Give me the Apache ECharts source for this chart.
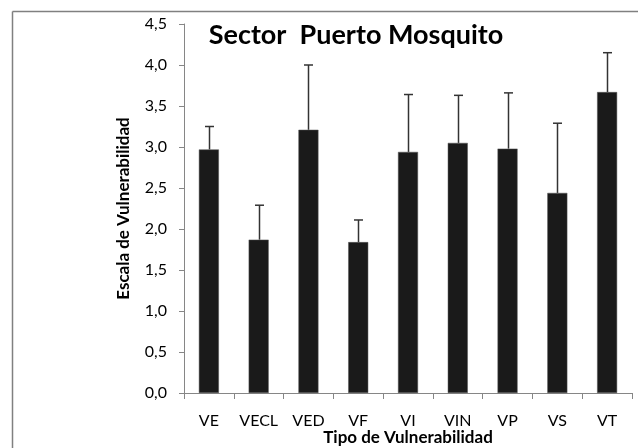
<!DOCTYPE html>
<html><head><meta charset="utf-8">
<script src="https://cdn.jsdelivr.net/npm/echarts@6/dist/echarts.min.js"></script>
<style>html,body{margin:0;padding:0;background:#fff}#c{width:638px;height:448px}</style>
</head><body><div id="c"></div>
<script>
const categories = ['VE','VECL','VED','VF','VI','VIN','VP','VS','VT'];
const means = [2.97, 1.87, 3.21, 1.84, 2.94, 3.05, 2.98, 2.44, 3.67];
const upper = [3.25, 2.29, 4.00, 2.11, 3.64, 3.63, 3.66, 3.29, 4.15];
const yTicks = [0, 0.5, 1, 1.5, 2, 2.5, 3, 3.5, 4, 4.5];

const font = 'Lato, "Open Sans", sans-serif';
const chart = echarts.init(document.getElementById('c'), null, {renderer:'canvas'});
chart.setOption({
  animation:false,
  backgroundColor:'#fff',
  title:{text:'Sector  Puerto Mosquito', left:351, top:17, textAlign:'center',
    textStyle:{fontFamily:font, fontWeight:'bold', fontSize:27, color:'#000'}},
  grid:{left:184, right:6, top:24, bottom:55, containLabel:false, outerBoundsMode:'none'},
  graphic:[
    {type:'line', shape:{x1:12.5,y1:11.5,x2:638,y2:11.5}, style:{stroke:'#808080', lineWidth:1.5}},
    {type:'line', shape:{x1:12.5,y1:11.5,x2:12.5,y2:448}, style:{stroke:'#808080', lineWidth:1.5}}
  ],
  xAxis:{type:'category', data:categories,
    name:'Tipo de Vulnerabilidad', nameLocation:'middle', nameGap:36, nameMoveOverlap:false,
    nameTextStyle:{fontFamily:font, fontWeight:'bold', fontSize:17, color:'#000', verticalAlign:'top'},
    axisLine:{lineStyle:{color:'#868686', width:1}},
    axisTick:{show:true, length:6, lineStyle:{color:'#868686'}},
    axisLabel:{fontFamily:font, fontSize:16, color:'#000', margin:20, interval:0, hideOverlap:false}},
  yAxis:{type:'value', min:0, max:4.5, interval:0.5,
    name:'Escala de Vulnerabilidad', nameLocation:'middle', nameGap:52, nameMoveOverlap:false,
    nameTextStyle:{fontFamily:font, fontWeight:'bold', fontSize:17, color:'#000'},
    splitLine:{show:false},
    axisLine:{show:true, lineStyle:{color:'#868686', width:1}},
    axisTick:{show:true, length:5, lineStyle:{color:'#868686'}},
    axisLabel:{fontFamily:font, fontSize:16, color:'#000', margin:17,
      formatter:v=>v.toFixed(1).replace('.',',')}},
  series:[
    {type:'bar', data:means, barWidth:20,
      itemStyle:{color:'#1a1a1a', borderColor:'#555', borderWidth:0.5}},
    {type:'custom', data:categories.map((c,i)=>[i, means[i], upper[i]]),
      renderItem:function(params, api){
        const b = api.coord([api.value(0), api.value(1)]);
        const t = api.coord([api.value(0), api.value(2)]);
        const x = Math.round(b[0])+0.5;
        return {type:'group', children:[
          {type:'line', shape:{x1:x,y1:b[1],x2:x,y2:t[1]}, style:{stroke:'#333', lineWidth:1.5}},
          {type:'line', shape:{x1:x-4.5,y1:t[1],x2:x+4.5,y2:t[1]}, style:{stroke:'#333', lineWidth:1.5}}
        ]};
      }, z:3}
  ]
});
</script></body></html>
